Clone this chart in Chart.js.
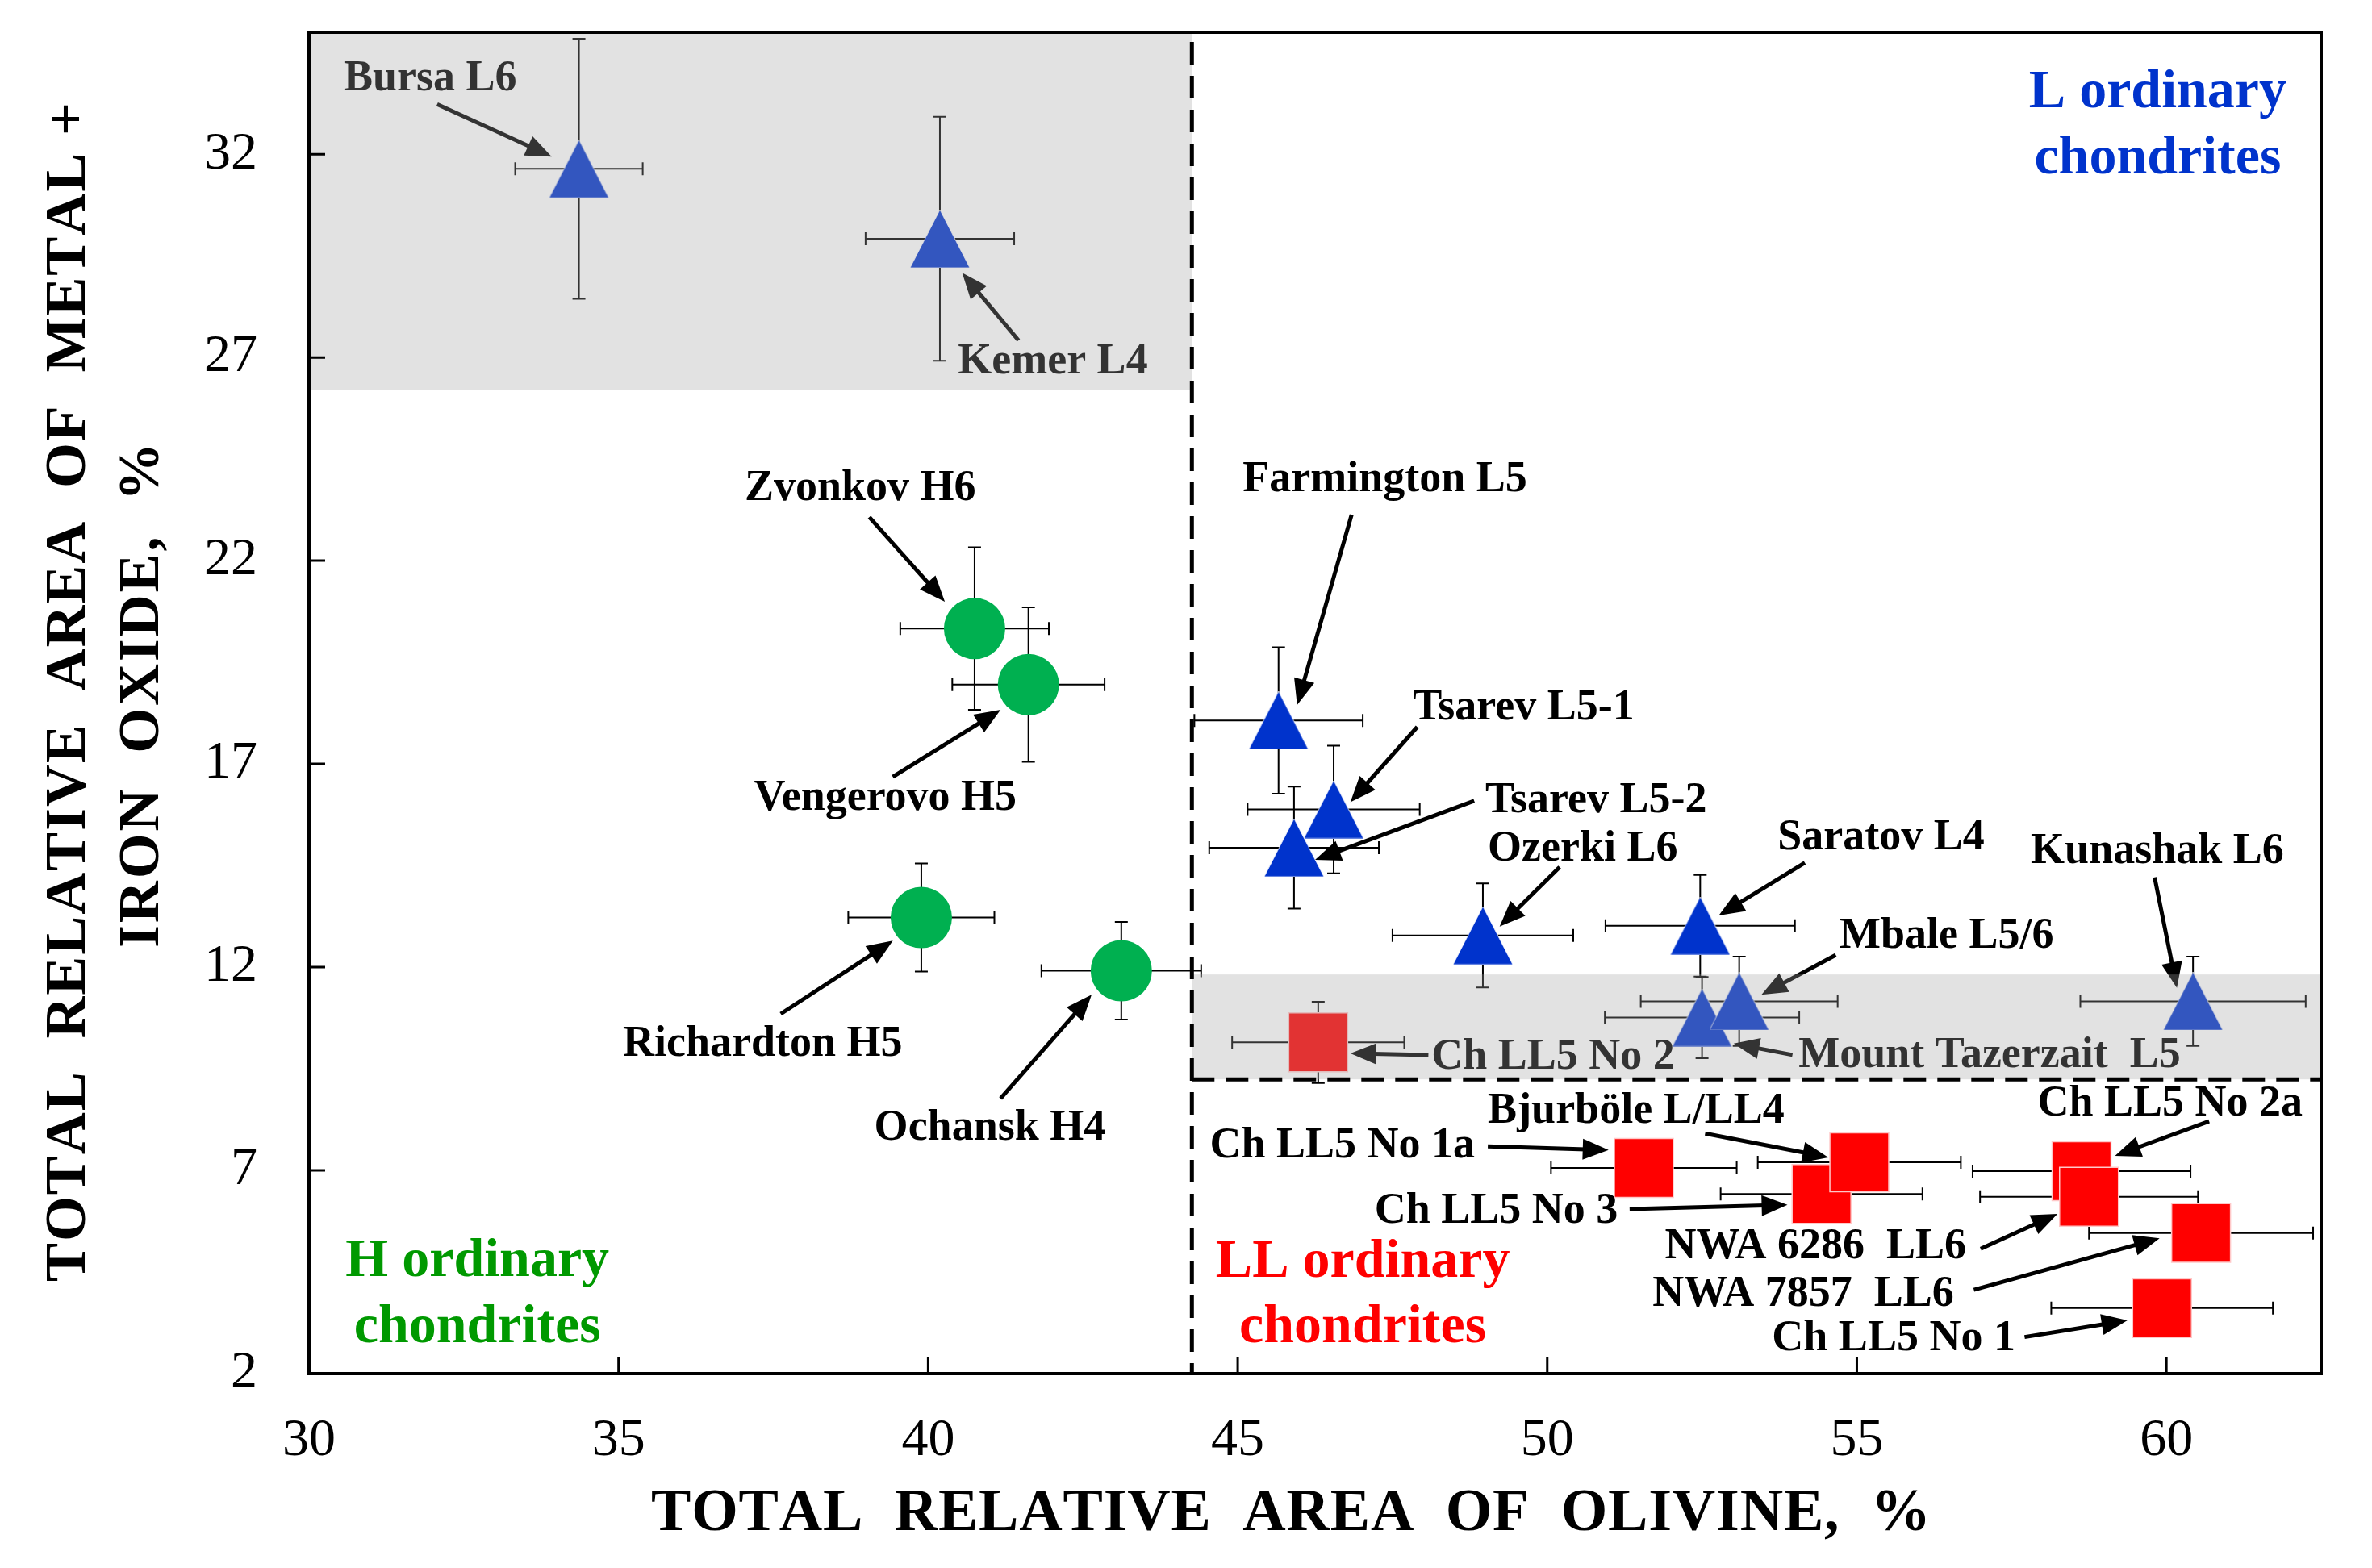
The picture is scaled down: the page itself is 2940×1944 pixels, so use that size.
<!DOCTYPE html>
<html>
<head>
<meta charset="utf-8">
<script src="https://cdn.jsdelivr.net/npm/chart.js@4.4.1/dist/chart.umd.min.js"></script>
<style>
  html, body { margin: 0; padding: 0; background: #fff; }
  #wrap { width: 2940px; height: 1944px; position: relative; }
</style>
</head>
<body>
<div id="wrap"><canvas id="chart_olivine"></canvas></div>
<script>
// values
var xTicks = [30, 35, 40, 45, 50, 55, 60];
var yTicks = [2, 7, 12, 17, 22, 27, 32];

// H ordinary chondrites
var hNames = ["Zvonkov H6", "Vengerovo H5", "Richardton H5", "Ochansk H4"];
var hX = [40.75, 41.62, 39.89, 43.12];
var hY = [20.33, 18.95, 13.22, 11.91];
var hXErr = [1.2, 1.23, 1.18, 1.29];
var hYErr = [2.0, 1.9, 1.33, 1.2];

// L ordinary chondrites
var lNames = ["Bursa L6", "Kemer L4", "Farmington L5", "Tsarev L5-1", "Tsarev L5-2", "Ozerki L6",
  "Saratov L4", "Mount Tazerzait L5", "Mbale L5/6", "Kunashak L6"];
var lX = [34.36, 40.19, 45.66, 46.55, 45.91, 48.96, 52.47, 52.50, 53.10, 60.43];
var lY = [31.64, 29.92, 18.07, 15.88, 14.94, 12.78, 13.02, 10.76, 11.16, 11.16];
var lXErr = [1.03, 1.2, 1.36, 1.39, 1.37, 1.46, 1.53, 1.57, 1.59, 1.82];
var lYErr = [3.2, 3.0, 1.8, 1.57, 1.5, 1.28, 1.25, 1.0, 1.1, 1.1];

// LL ordinary chondrites
var llNames = ["Ch LL5 No 2", "Ch LL5 No 1a", "Ch LL5 No 3", "Bjurböle L/LL4", "Ch LL5 No 2a",
  "NWA 6286 LL6", "NWA 7857 LL6", "Ch LL5 No 1"];
var llX = [46.30, 51.56, 54.43, 55.04, 58.63, 58.75, 60.56, 59.93];
var llY = [10.15, 7.06, 6.42, 7.20, 6.98, 6.35, 5.46, 3.61];
var llXErr = [1.39, 1.5, 1.63, 1.64, 1.76, 1.76, 1.81, 1.79];
var llYErr = [1.0, 0.5, 0.5, 0.5, 0.5, 0.5, 0.5, 0.5];

// label text, anchor and arrow (in axis units)
var notes = [
  {text: "Bursa L6", x: 30.56, y: 33.57, align: "left", from: [32.07, 33.23], to: [33.92, 31.94]},
  {text: "Kemer L4", x: 40.48, y: 26.60, align: "left", from: [41.46, 27.42], to: [40.55, 29.08]},
  {text: "Zvonkov H6", x: 40.77, y: 23.49, align: "right", from: [39.05, 23.07], to: [40.27, 20.99]},
  {text: "Vengerovo H5", x: 41.43, y: 15.88, align: "right", from: [39.43, 16.68], to: [41.17, 18.33]},
  {text: "Richardton H5", x: 35.07, y: 9.82, align: "left", from: [37.62, 10.85], to: [39.43, 12.65]},
  {text: "Ochansk H4", x: 39.13, y: 7.75, align: "left", from: [41.17, 8.77], to: [42.64, 11.32]},
  {text: "Farmington L5", x: 45.08, y: 23.71, align: "left", from: [46.84, 23.13], to: [45.96, 18.45]},
  {text: "Tsarev L5-1", x: 47.83, y: 18.09, align: "left", from: [47.90, 17.91], to: [46.82, 16.06]},
  {text: "Tsarev L5-2", x: 49.0, y: 15.81, align: "left", from: [48.82, 16.09], to: [46.25, 14.64]},
  {text: "Ozerki L6", x: 49.04, y: 14.62, align: "left", from: [50.20, 14.46], to: [49.23, 13.0]},
  {text: "Saratov L4", x: 53.72, y: 14.90, align: "left", from: [54.16, 14.57], to: [52.77, 13.27]},
  {text: "Mbale L5/6", x: 54.72, y: 12.48, align: "left", from: [54.66, 12.30], to: [53.46, 11.32]},
  {text: "Mount Tazerzait  L5", x: 54.06, y: 9.54, align: "left", from: [53.96, 9.84], to: [53.01, 10.12]},
  {text: "Kunashak L6", x: 57.81, y: 14.57, align: "left", from: [59.81, 14.21], to: [60.17, 11.49]},
  {text: "Ch LL5 No 2", x: 48.13, y: 9.50, align: "left", from: [48.08, 9.84], to: [46.82, 9.88]},
  {text: "Bjurböle L/LL4", x: 53.83, y: 8.17, align: "right", from: [52.55, 7.91], to: [54.54, 7.32]},
  {text: "Ch LL5 No 1a", x: 44.55, y: 7.32, align: "left", from: [49.04, 7.59], to: [50.99, 7.50]},
  {text: "Ch LL5 No 3", x: 47.21, y: 5.71, align: "left", from: [51.33, 6.05], to: [53.88, 6.15]},
  {text: "Ch LL5 No 2a", x: 57.92, y: 8.35, align: "left", from: [60.69, 8.21], to: [59.17, 7.36]},
  {text: "NWA 6286  LL6", x: 51.90, y: 4.84, align: "left", from: [57.0, 5.07], to: [58.24, 5.93]},
  {text: "NWA 7857  LL6", x: 51.70, y: 3.67, align: "left", from: [56.89, 4.06], to: [59.89, 5.33]},
  {text: "Ch LL5 No 1", x: 53.63, y: 2.58, align: "left", from: [57.71, 2.90], to: [59.37, 3.31]}
];

var groupLabels = [
  {lines: ["L ordinary", "chondrites"], x: 59.86, y: [33.15, 31.52], color: "#0033cc"},
  {lines: ["H ordinary", "chondrites"], x: 32.72, y: [4.40, 2.77], color: "#009900"},
  {lines: ["LL ordinary", "chondrites"], x: 47.02, y: [4.38, 2.77], color: "#ff0000"}
];

// shaded areas and dashed boundaries (axis units)
var shadeBoxes = [
  {x0: 30, x1: 44.26, y0: 26.19, y1: 35},
  {x0: 44.26, x1: 62.5, y0: 9.24, y1: 11.82}
];
var splitX = 44.26;
var splitY = 9.24;

function buildPoints(xs, ys, xe, ye, names) {
  var out = [];
  for (var i = 0; i < xs.length; i++) {
    out.push({x: xs[i], y: ys[i], xErr: xe[i], yErr: ye[i], name: names[i]});
  }
  return out;
}

function makeTriangle(color) {
  var c = document.createElement("canvas");
  c.width = 74;
  c.height = 72;
  var g = c.getContext("2d");
  g.fillStyle = color;
  g.beginPath();
  g.moveTo(37, 0);
  g.lineTo(74, 72);
  g.lineTo(0, 72);
  g.closePath();
  g.fill();
  g.strokeStyle = "rgba(255,255,255,0.8)";
  g.lineWidth = 1;
  g.stroke();
  return c;
}

var serif = "'Liberation Serif', 'Times New Roman', serif";

var errorBars = {
  id: "errorBars",
  beforeDatasetsDraw: function(chart) {
    var ctx = chart.ctx, xs = chart.scales.x, ys = chart.scales.y, cap = 8;
    ctx.save();
    ctx.strokeStyle = "#000";
    ctx.lineWidth = 2;
    chart.data.datasets.forEach(function(ds) {
      ds.data.forEach(function(p) {
        var cx = xs.getPixelForValue(p.x), cy = ys.getPixelForValue(p.y);
        var xa = xs.getPixelForValue(p.x - p.xErr), xb = xs.getPixelForValue(p.x + p.xErr);
        var ya = ys.getPixelForValue(p.y - p.yErr), yb = ys.getPixelForValue(p.y + p.yErr);
        ctx.beginPath();
        ctx.moveTo(xa, cy); ctx.lineTo(xb, cy);
        ctx.moveTo(xa, cy - cap); ctx.lineTo(xa, cy + cap);
        ctx.moveTo(xb, cy - cap); ctx.lineTo(xb, cy + cap);
        ctx.moveTo(cx, ya); ctx.lineTo(cx, yb);
        ctx.moveTo(cx - cap, ya); ctx.lineTo(cx + cap, ya);
        ctx.moveTo(cx - cap, yb); ctx.lineTo(cx + cap, yb);
        ctx.stroke();
      });
    });
    ctx.restore();
  }
};

function drawArrow(ctx, x0, y0, x1, y1) {
  var ang = Math.atan2(y1 - y0, x1 - x0);
  var hl = 32, hw = 13;
  var bx = x1 - hl * Math.cos(ang), by = y1 - hl * Math.sin(ang);
  ctx.beginPath();
  ctx.moveTo(x0, y0);
  ctx.lineTo(bx + 4 * Math.cos(ang), by + 4 * Math.sin(ang));
  ctx.stroke();
  ctx.beginPath();
  ctx.moveTo(x1, y1);
  ctx.lineTo(bx + hw * Math.sin(ang), by - hw * Math.cos(ang));
  ctx.lineTo(bx - hw * Math.sin(ang), by + hw * Math.cos(ang));
  ctx.closePath();
  ctx.fill();
}

function spacedText(ctx, text, cx, baseY, targetW) {
  var widths = [], total = 0;
  for (var i = 0; i < text.length; i++) {
    var w = ctx.measureText(text[i]).width;
    widths.push(w);
    total += w;
  }
  var gap = (targetW - total) / (text.length - 1);
  var x = cx - targetW / 2;
  ctx.textAlign = "left";
  for (var j = 0; j < text.length; j++) {
    ctx.fillText(text[j], x, baseY);
    x += widths[j] + gap;
  }
}

var decorations = {
  id: "decorations",
  afterDatasetsDraw: function(chart) {
    var ctx = chart.ctx, xs = chart.scales.x, ys = chart.scales.y, area = chart.chartArea;
    ctx.save();

    // labels and arrows
    ctx.fillStyle = "#000";
    ctx.strokeStyle = "#000";
    ctx.lineWidth = 5;
    ctx.font = "bold 54px " + serif;
    ctx.textBaseline = "alphabetic";
    notes.forEach(function(n) {
      ctx.textAlign = n.align;
      ctx.fillText(n.text, xs.getPixelForValue(n.x), ys.getPixelForValue(n.y));
      drawArrow(ctx, xs.getPixelForValue(n.from[0]), ys.getPixelForValue(n.from[1]),
        xs.getPixelForValue(n.to[0]), ys.getPixelForValue(n.to[1]));
    });

    // shaded areas lay over the marks
    ctx.fillStyle = "rgba(163,163,163,0.314)";
    shadeBoxes.forEach(function(b) {
      var x0 = xs.getPixelForValue(b.x0), x1 = xs.getPixelForValue(b.x1);
      var y0 = ys.getPixelForValue(b.y0), y1 = ys.getPixelForValue(b.y1);
      ctx.fillRect(x0, y1, x1 - x0, y0 - y1);
    });

    // dashed boundaries
    ctx.strokeStyle = "#000";
    ctx.lineWidth = 5;
    ctx.setLineDash([28, 14]);
    var sx = xs.getPixelForValue(splitX), sy = ys.getPixelForValue(splitY);
    ctx.beginPath();
    ctx.moveTo(sx, area.top + 12);
    ctx.lineTo(sx, area.bottom);
    ctx.moveTo(sx, sy);
    ctx.lineTo(area.right, sy);
    ctx.stroke();
    ctx.setLineDash([]);

    // frame and inward ticks
    ctx.lineWidth = 4;
    ctx.strokeRect(area.left, area.top, area.right - area.left, area.bottom - area.top);
    ctx.lineWidth = 3;
    ctx.beginPath();
    xTicks.forEach(function(v) {
      var p = xs.getPixelForValue(v);
      ctx.moveTo(p, area.bottom);
      ctx.lineTo(p, area.bottom - 20);
    });
    yTicks.forEach(function(v) {
      var p = ys.getPixelForValue(v);
      ctx.moveTo(area.left, p);
      ctx.lineTo(area.left + 20, p);
    });
    ctx.stroke();

    // group names
    ctx.font = "bold 68px " + serif;
    ctx.textAlign = "center";
    groupLabels.forEach(function(g) {
      ctx.fillStyle = g.color;
      g.lines.forEach(function(line, k) {
        ctx.fillText(line, xs.getPixelForValue(g.x), ys.getPixelForValue(g.y[k]));
      });
    });

    // axis titles
    ctx.fillStyle = "#000";
    ctx.font = "bold 74px " + serif;
    spacedText(ctx, "TOTAL  RELATIVE  AREA  OF  OLIVINE,  %", 1600, 1897, 1586);

    ctx.font = "bold 72px " + serif;
    ctx.save();
    ctx.translate(105, 858);
    ctx.rotate(-Math.PI / 2);
    spacedText(ctx, "TOTAL  RELATIVE  AREA  OF  METAL +", 0, 0, 1462);
    ctx.restore();
    ctx.save();
    ctx.translate(196, 862);
    ctx.rotate(-Math.PI / 2);
    spacedText(ctx, "IRON  OXIDE,  %", 0, 0, 626);
    ctx.restore();

    ctx.restore();
  }
};

function load() {
  var config = {
    type: "scatter",
    data: {
      datasets: [
        {
          label: "H",
          data: buildPoints(hX, hY, hXErr, hYErr, hNames),
          pointStyle: "circle",
          pointRadius: 38,
          backgroundColor: "#00b050",
          borderColor: "#00b050",
          borderWidth: 0
        },
        {
          label: "L",
          data: buildPoints(lX, lY, lXErr, lYErr, lNames),
          pointStyle: makeTriangle("#0033cc"),
          pointRadius: 36,
          backgroundColor: "#0033cc",
          borderWidth: 0
        },
        {
          label: "LL",
          data: buildPoints(llX, llY, llXErr, llYErr, llNames),
          pointStyle: "rect",
          pointRadius: 51.6,
          backgroundColor: "#ff0000",
          borderColor: "#ffc8c8",
          borderWidth: 1.5
        }
      ]
    },
    options: {
      responsive: true,
      maintainAspectRatio: false,
      animation: false,
      events: [],
      layout: {autoPadding: false, padding: {left: 0, top: 40, right: 63, bottom: 0}},
      plugins: {legend: {display: false}, tooltip: {enabled: false}},
      scales: {
        x: {
          type: "linear",
          min: 30,
          max: 62.5,
          grid: {display: false, drawTicks: false},
          border: {display: false},
          afterBuildTicks: function(axis) { axis.ticks = xTicks.map(function(v) { return {value: v}; }); },
          afterFit: function(axis) {
            axis.height = 241;
            axis.paddingLeft = 0; axis.paddingRight = 0;
          },
          ticks: {
            font: {family: serif, size: 66},
            color: "#000",
            padding: 44,
            maxRotation: 0,
            autoSkip: false
          }
        },
        y: {
          type: "linear",
          min: 2,
          max: 35,
          grid: {display: false, drawTicks: false},
          border: {display: false},
          afterBuildTicks: function(axis) { axis.ticks = yTicks.map(function(v) { return {value: v}; }); },
          afterFit: function(axis) {
            axis.width = 383;
            axis.paddingTop = 0; axis.paddingBottom = 0;
          },
          ticks: {
            font: {family: serif, size: 66},
            color: "#000",
            padding: 64,
            autoSkip: false
          }
        }
      }
    },
    plugins: [errorBars, decorations]
  };

  new Chart(document.getElementById("chart_olivine").getContext("2d"), config);
}

document.addEventListener("DOMContentLoaded", load, false);
</script>
</body>
</html>
